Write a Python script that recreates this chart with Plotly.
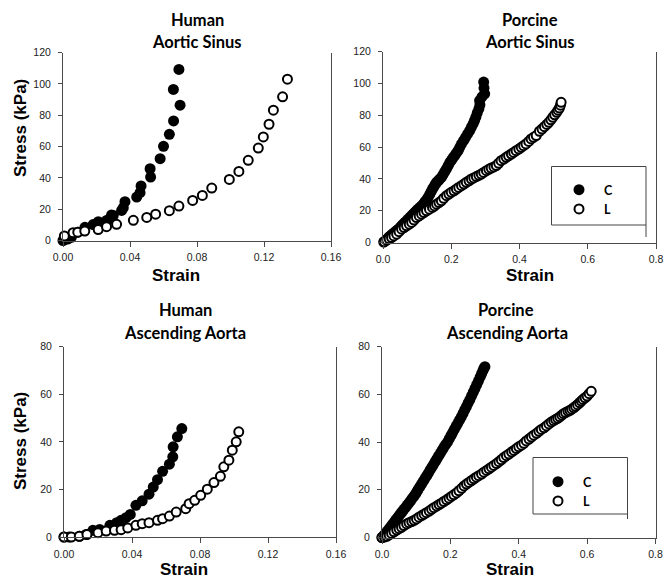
import plotly.graph_objects as go

W, H = 666, 579

# ---------------- data: stress (kPa) vs strain ----------------
# Human, aortic sinus
hs_c_strain = [0.000, 0.001, 0.003, 0.005, 0.009, 0.0131, 0.018, 0.0211, 0.026, 0.028, 0.029, 0.030,
               0.035, 0.036, 0.037, 0.044, 0.046, 0.0466, 0.0523, 0.052, 0.058, 0.060, 0.0635,
               0.066, 0.0699, 0.0659, 0.0692]
hs_c_stress = [0.0, 0.5, 1.0, 2.0, 5.3, 8.4, 10.2, 12.0, 12.8, 13.9, 16.3, 16.0,
               19.2, 20.9, 24.8, 27.7, 30.5, 34.8, 40.5, 45.8, 52.2, 60.1, 67.8,
               76.3, 86.4, 96.4, 109.2]
hs_l_strain = [0.0008, 0.006, 0.0088, 0.013, 0.021, 0.026, 0.032, 0.042, 0.050, 0.0553, 0.0635,
               0.0692, 0.0774, 0.0832, 0.0888, 0.0993, 0.105, 0.1106, 0.1166, 0.1196, 0.123,
               0.1256, 0.1311, 0.134]
hs_l_stress = [2.9, 5.0, 5.3, 6.0, 7.0, 8.8, 10.3, 12.9, 14.7, 16.8, 19.0,
               22.0, 25.6, 28.8, 33.5, 39.0, 44.1, 51.2, 59.0, 66.1, 74.2,
               83.2, 91.7, 103.0]

# Porcine, aortic sinus
ps_c_strain = [0.002, 0.006, 0.011, 0.016, 0.020, 0.025, 0.030, 0.035, 0.040, 0.045, 0.050, 0.054,
               0.059, 0.064, 0.069, 0.074, 0.079, 0.084, 0.088, 0.093, 0.098, 0.103, 0.108, 0.113,
               0.118, 0.123, 0.128, 0.132, 0.137, 0.141, 0.145, 0.149, 0.153, 0.157, 0.162, 0.166,
               0.171, 0.176, 0.181, 0.186, 0.191, 0.196, 0.201, 0.205, 0.210, 0.215, 0.220, 0.225,
               0.230, 0.236, 0.242, 0.248, 0.254, 0.259, 0.264, 0.268, 0.272, 0.276, 0.281, 0.284,
               0.283, 0.290, 0.298, 0.296, 0.295]
ps_c_stress = [0.3, 1.0, 2.0, 3.1, 3.9, 4.8, 5.7, 6.6, 7.5, 8.4, 9.4, 10.4,
               11.5, 12.6, 13.6, 14.7, 15.8, 16.8, 17.8, 18.9, 20.0, 21.0, 22.0, 23.0,
               24.1, 25.6, 27.0, 28.3, 30.2, 32.0, 33.6, 35.0, 36.5, 37.8, 38.8, 39.8,
               40.9, 42.7, 44.5, 46.2, 48.3, 50.4, 51.8, 53.2, 54.6, 56.1, 57.7, 59.8,
               61.9, 64.0, 66.1, 68.2, 70.3, 72.4, 74.5, 76.6, 78.7, 81.3, 84.0, 86.5,
               89.2, 91.5, 93.4, 97.0, 100.8]
ps_l_strain = [0.004, 0.011, 0.018, 0.025, 0.032, 0.040, 0.047, 0.0545, 0.062, 0.069, 0.077, 0.084,
               0.091, 0.098, 0.106, 0.113, 0.120, 0.1275, 0.136, 0.145, 0.151, 0.157, 0.164, 0.171,
               0.178, 0.186, 0.193, 0.200, 0.208, 0.215, 0.222, 0.230, 0.237, 0.244, 0.252, 0.259,
               0.266, 0.2735, 0.281, 0.288, 0.295, 0.303, 0.310, 0.317, 0.325, 0.332, 0.339, 0.346,
               0.354, 0.361, 0.368, 0.376, 0.383, 0.390, 0.398, 0.405, 0.412, 0.419, 0.427, 0.434,
               0.441, 0.449, 0.4585, 0.466, 0.473, 0.480, 0.486, 0.492, 0.4976, 0.503, 0.509, 0.513,
               0.517, 0.520, 0.522]
ps_l_stress = [0.5, 1.5, 2.3, 3.1, 4.1, 5.2, 6.8, 8.4, 9.4, 10.5, 11.5, 12.6,
               14.1, 15.7, 16.7, 17.8, 18.8, 19.9, 20.9, 22.0, 23.0, 24.1, 25.1, 26.2,
               27.8, 29.4, 30.4, 31.5, 32.5, 33.6, 34.6, 35.7, 36.7, 37.8, 38.8, 39.9,
               40.6, 41.4, 42.2, 43.0, 44.0, 45.1, 46.0, 46.8, 47.5, 48.3, 49.8, 51.4,
               52.4, 53.5, 54.5, 55.6, 56.6, 57.7, 58.7, 59.8, 60.8, 61.9, 63.5, 65.1,
               66.1, 67.2, 69.9, 71.3, 72.8, 74.2, 75.5, 77.1, 78.7, 80.2, 81.8, 83.1,
               84.5, 86.3, 88.1]

# Human, ascending aorta
ha_c_strain = [0.000, 0.003, 0.009, 0.013, 0.017, 0.021, 0.027, 0.031, 0.0336, 0.0365, 0.039,
               0.0423, 0.046, 0.050, 0.0525, 0.055, 0.058, 0.062, 0.064, 0.0642, 0.0667, 0.0693]
ha_c_stress = [0.0, 0.0, 0.3, 1.1, 2.8, 3.2, 4.9, 6.0, 7.0, 8.1, 9.5,
               13.3, 15.2, 18.0, 21.0, 24.1, 27.6, 30.6, 33.7, 37.9, 42.1, 45.6]
ha_l_strain = [0.000, 0.0043, 0.009, 0.0135, 0.020, 0.0248, 0.0297, 0.0336, 0.0375, 0.0423, 0.046,
               0.050, 0.055, 0.058, 0.062, 0.066, 0.0716, 0.0736, 0.0769, 0.0804, 0.0843, 0.0882,
               0.092, 0.094, 0.097, 0.099, 0.1013, 0.1028]
ha_l_stress = [0.0, 0.0, 0.3, 1.0, 1.8, 2.5, 2.8, 3.1, 3.8, 4.9, 5.6,
               6.0, 7.0, 7.7, 8.8, 10.5, 11.9, 14.0, 15.4, 17.5, 20.1, 22.9,
               25.5, 29.5, 32.3, 36.5, 40.0, 44.2]

# Porcine, ascending aorta
pa_c_strain = [0.000, 0.005, 0.010, 0.015, 0.020, 0.025, 0.030, 0.035, 0.040, 0.045, 0.050, 0.055,
               0.059, 0.064, 0.069, 0.074, 0.079, 0.084, 0.089, 0.094, 0.099, 0.103, 0.106, 0.111,
               0.116, 0.121, 0.126, 0.131, 0.136, 0.141, 0.146, 0.151, 0.156, 0.161, 0.166, 0.171,
               0.176, 0.181, 0.186, 0.192, 0.197, 0.202, 0.207, 0.212, 0.217, 0.222, 0.227, 0.232,
               0.237, 0.242, 0.247, 0.252, 0.257, 0.262, 0.267, 0.272, 0.277, 0.282, 0.287, 0.291,
               0.295, 0.298, 0.301]
pa_c_stress = [0.0, 0.8, 1.7, 2.6, 3.5, 4.4, 5.4, 6.3, 7.3, 8.2, 9.2, 10.1,
               10.8, 11.8, 12.6, 13.6, 14.5, 15.5, 16.5, 17.4, 18.5, 19.4, 20.2, 21.3,
               22.5, 23.6, 24.8, 25.9, 27.1, 28.4, 29.5, 30.7, 31.9, 33.1, 34.3, 35.4,
               36.6, 37.8, 38.9, 40.1, 41.5, 42.8, 44.1, 45.4, 46.7, 48.0, 49.3, 50.6,
               52.0, 53.5, 54.9, 56.4, 57.8, 59.4, 60.9, 62.5, 64.1, 65.6, 67.2, 68.6,
               69.9, 70.9, 71.6]
pa_l_strain = [0.000, 0.007, 0.014, 0.021, 0.028, 0.035, 0.043, 0.050, 0.057, 0.064, 0.072, 0.079,
               0.087, 0.094, 0.101, 0.108, 0.116, 0.123, 0.130, 0.138, 0.145, 0.152, 0.160, 0.167,
               0.174, 0.181, 0.189, 0.196, 0.203, 0.210, 0.218, 0.225, 0.233, 0.240, 0.247, 0.254,
               0.262, 0.269, 0.276, 0.283, 0.291, 0.298, 0.306, 0.313, 0.320, 0.327, 0.335, 0.342,
               0.349, 0.356, 0.364, 0.371, 0.379, 0.386, 0.393, 0.400, 0.408, 0.415, 0.422, 0.430,
               0.437, 0.444, 0.452, 0.459, 0.466, 0.474, 0.481, 0.488, 0.495, 0.502, 0.508, 0.514,
               0.520, 0.526, 0.531, 0.537, 0.544, 0.550, 0.555, 0.561, 0.566, 0.572, 0.578, 0.583,
               0.588, 0.594, 0.600, 0.606, 0.612]
pa_l_stress = [0.0, 0.2, 0.5, 1.1, 1.7, 2.4, 3.1, 3.7, 4.3, 5.0, 5.7, 6.2,
               6.7, 7.2, 7.8, 8.5, 9.2, 9.8, 10.4, 11.1, 11.8, 12.5, 13.2, 13.8,
               14.4, 15.1, 15.8, 16.5, 17.2, 17.9, 18.7, 19.6, 20.6, 21.6, 22.4, 23.1,
               23.9, 24.6, 25.3, 25.9, 26.6, 27.4, 28.1, 28.8, 29.5, 30.2, 31.0, 31.8,
               32.6, 33.5, 34.3, 35.0, 35.8, 36.5, 37.3, 38.0, 38.7, 39.5, 40.5, 41.3,
               42.1, 42.9, 43.7, 44.5, 45.3, 46.0, 46.8, 47.6, 48.4, 49.0, 49.5, 50.0,
               50.6, 51.3, 51.9, 52.4, 52.9, 53.3, 53.8, 54.4, 55.0, 55.7, 56.5, 57.2,
               57.9, 58.6, 59.3, 60.3, 61.3]

human_ticks = [0.00, 0.04, 0.08, 0.12, 0.16]
porcine_ticks = [0.0, 0.2, 0.4, 0.6, 0.8]
sinus_yticks = [0, 20, 40, 60, 80, 100, 120]
aorta_yticks = [0, 20, 40, 60, 80]

# ---------------- styling ----------------
AXIS_COLOR = "#4a4a4a"
TICK_FONT = dict(family="Liberation Sans, Arial", size=10.5, color="#222222")
LABEL_FONT = dict(family="Liberation Sans, Arial", size=17, color="black", weight="bold")
TITLE_FONT = dict(family="Lato", size=16.5, color="black", weight="bold")
LEGEND_FONT = dict(family="Lato", size=12.5, color="black", weight="bold")


def px_x(p):
    return p / W


def px_y(p):
    return 1 - p / H


fig = go.Figure()


def add_series(xs, ys, axis_id, filled, name, legend=None):
    xa = "x" if axis_id == 1 else f"x{axis_id}"
    ya = "y" if axis_id == 1 else f"y{axis_id}"
    if filled:
        marker = dict(symbol="circle", size=11, color="black", line=dict(width=0))
    else:
        marker = dict(symbol="circle", size=9, color="white", line=dict(width=2, color="black"))
    fig.add_trace(go.Scatter(
        x=xs, y=ys, mode="markers", marker=marker, name=name,
        xaxis=xa, yaxis=ya, cliponaxis=False,
        showlegend=legend is not None, legend=legend if legend else "legend",
    ))


add_series(hs_c_strain, hs_c_stress, 1, True, "C")
add_series(hs_l_strain, hs_l_stress, 1, False, "L")
add_series(ps_c_strain, ps_c_stress, 2, True, "C", "legend")
add_series(ps_l_strain, ps_l_stress, 2, False, "L", "legend")
add_series(ha_c_strain, ha_c_stress, 3, True, "C")
add_series(ha_l_strain, ha_l_stress, 3, False, "L")
add_series(pa_c_strain, pa_c_stress, 4, True, "C", "legend2")
add_series(pa_l_strain, pa_l_stress, 4, False, "L", "legend2")

# panel rectangles in pixels: (left, right, top, bottom)
panels = {
    1: (63, 331, 52.5, 240.5),
    2: (383, 656, 51.5, 242.5),
    3: (64, 336, 346.7, 537),
    4: (382, 655.5, 346.7, 537.5),
}

common_x = dict(showgrid=False, zeroline=False, showline=True, linecolor=AXIS_COLOR, linewidth=1,
                ticks="outside", ticklen=5, tickcolor=AXIS_COLOR, tickwidth=1, tickfont=TICK_FONT,
                ticklabelstandoff=2)
common_y = dict(showgrid=False, zeroline=False, showline=True, linecolor=AXIS_COLOR, linewidth=1,
                mirror=True, ticks="outside", ticklen=4, tickcolor=AXIS_COLOR, tickwidth=1,
                tickfont=TICK_FONT, ticklabelstandoff=5)

axis_specs = {
    1: (human_ticks, ".2f", [0, 0.16], sinus_yticks, [0, 120]),
    2: (porcine_ticks, ".1f", [0, 0.8], sinus_yticks, [0, 120]),
    3: (human_ticks, ".2f", [0, 0.16], aorta_yticks, [0, 80]),
    4: (porcine_ticks, ".1f", [0, 0.8], aorta_yticks, [0, 80]),
}

layout_axes = {}
for i, (l, r, t, b) in panels.items():
    xt, xf, xr, yt, yr = axis_specs[i]
    xkey = "xaxis" if i == 1 else f"xaxis{i}"
    ykey = "yaxis" if i == 1 else f"yaxis{i}"
    ya = "y" if i == 1 else f"y{i}"
    xa = "x" if i == 1 else f"x{i}"
    layout_axes[xkey] = dict(common_x, domain=[px_x(l), px_x(r)], range=xr, tickvals=xt,
                             tickformat=xf, anchor=ya)
    layout_axes[ykey] = dict(common_y, domain=[px_y(b), px_y(t)], range=yr, tickvals=yt,
                             anchor=xa)

fig.update_layout(**layout_axes)

annotations = []


def text(label, x, y, font, angle=0):
    annotations.append(dict(text=label, x=px_x(x), y=px_y(y), xref="paper", yref="paper",
                            xanchor="center", yanchor="middle", showarrow=False,
                            font=font, textangle=angle))


# panel titles
text("Human", 197, 20, TITLE_FONT)
text("Aortic Sinus", 197, 42, TITLE_FONT)
text("Porcine", 530, 20, TITLE_FONT)
text("Aortic Sinus", 530, 42, TITLE_FONT)
text("Human", 185, 310, TITLE_FONT)
text("Ascending Aorta", 185, 333, TITLE_FONT)
text("Porcine", 506, 310, TITLE_FONT)
text("Ascending Aorta", 507, 333, TITLE_FONT)

# axis titles
text("Strain", 176, 275, LABEL_FONT)
text("Strain", 530, 275, LABEL_FONT)
text("Strain", 184, 569, LABEL_FONT)
text("Strain", 510, 569, LABEL_FONT)
text("Stress (kPa)", 20, 128, LABEL_FONT, -90)
text("Stress (kPa)", 20, 441, LABEL_FONT, -90)

# legend frames
shapes = []
for (l, r, t, b, ext) in [(551.5, 646, 166.5, 225, 237), (533, 627.5, 457.5, 514, 519)]:
    shapes.append(dict(type="rect", xref="paper", yref="paper", x0=px_x(l), x1=px_x(r),
                       y0=px_y(b), y1=px_y(t), line=dict(color="#444444", width=1)))
    shapes.append(dict(type="line", xref="paper", yref="paper", x0=px_x(r), x1=px_x(r),
                       y0=px_y(b), y1=px_y(ext), line=dict(color="#444444", width=1)))

legend_common = dict(xanchor="left", yanchor="top", bgcolor="rgba(0,0,0,0)", borderwidth=0,
                     font=LEGEND_FONT, itemwidth=40, tracegroupgap=0, itemclick=False)

fig.update_layout(
    width=W, height=H,
    margin=dict(l=0, r=0, t=0, b=0, autoexpand=False),
    paper_bgcolor="white", plot_bgcolor="white",
    annotations=annotations,
    shapes=shapes,
    legend=dict(legend_common, x=px_x(554), y=px_y(175)),
    legend2=dict(legend_common, x=px_x(533), y=px_y(467)),
)

fig.write_html("out.html")
